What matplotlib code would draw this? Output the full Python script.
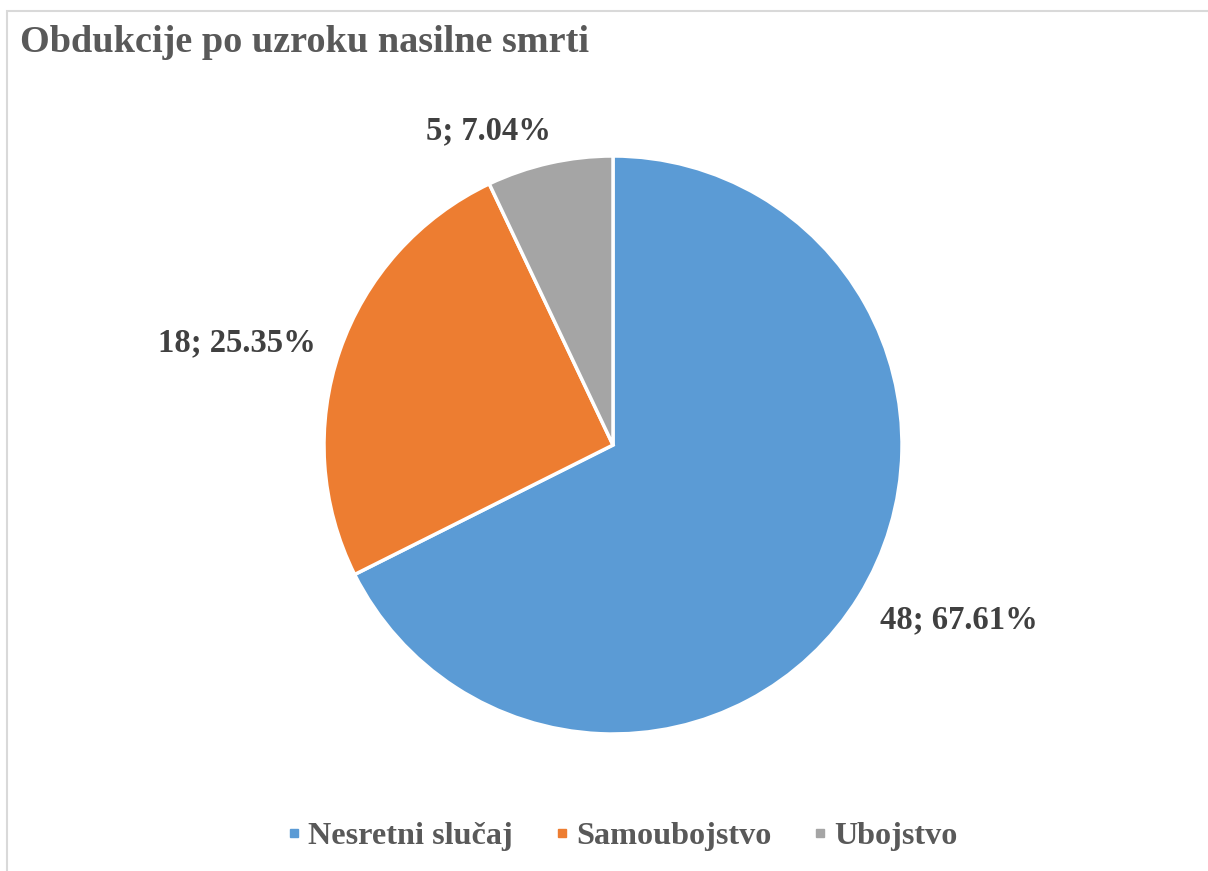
import numpy as np
import matplotlib
matplotlib.use("Agg")
import matplotlib.pyplot as plt
from matplotlib.lines import Line2D
from matplotlib.patches import Rectangle

categories = ["Nesretni slučaj", "Samoubojstvo", "Ubojstvo"]
values = [48, 18, 5]
percent_labels = ["67.61%", "25.35%", "7.04%"]
colors = ["#5B9BD5", "#ED7D31", "#A5A5A5"]
title = "Obdukcije po uzroku nasilne smrti"

W, H = 1208, 871
fig = plt.figure(figsize=(W / 100, H / 100), dpi=100)
plt.rcParams['font.family'] = ['Liberation Serif', 'DejaVu Serif']

# chart border (light gray)
fig.patches.append(Rectangle((7 / W, -0.01), 1.02, 1 - 11 / H + 0.01, transform=fig.transFigure,
                             fill=False, edgecolor="#D9D9D9", linewidth=1.5))

cx, cy, r, half = 613, 445, 289, 400
ax = fig.add_axes([(cx - half) / W, (H - cy - half) / H, 2 * half / W, 2 * half / H])

wedges, _ = ax.pie(values, colors=colors, startangle=90, counterclock=False, radius=1,
                   wedgeprops=dict(edgecolor="white", linewidth=2.5))
lim = half / r
ax.set_xlim(-lim, lim)
ax.set_ylim(-lim, lim)
ax.set_aspect("equal")
ax.axis("off")

label_dist = [1.34, 1.35, 1.17]
label_ang_off = [4.8, 3.8, 9.0]
for w, v, p, d, off in zip(wedges, values, percent_labels, label_dist, label_ang_off):
    mid = np.deg2rad((w.theta1 + w.theta2) / 2 + off)
    ax.text(d * np.cos(mid), d * np.sin(mid), f"{v}; {p}", ha="center", va="center",
            fontsize=23.5, fontweight="bold", color="#404040", clip_on=False)

fig.text(20 / W, 1 - 43 / H, title, ha="left", va="center", fontsize=27.5,
         fontweight="bold", color="#595959")

handles = [Line2D([], [], marker="s", linestyle="none", markersize=6, markerfacecolor=c,
                  markeredgecolor=c) for c in colors]
fig.legend(handles, categories, loc="center", bbox_to_anchor=(621 / W, 1 - 836 / H), ncol=3,
           frameon=False, prop=dict(size=23.2, weight="bold"), labelcolor="#595959",
           handletextpad=0.15, columnspacing=1.2, handlelength=0.6)

fig.savefig("out.png", dpi=100, facecolor="white")
